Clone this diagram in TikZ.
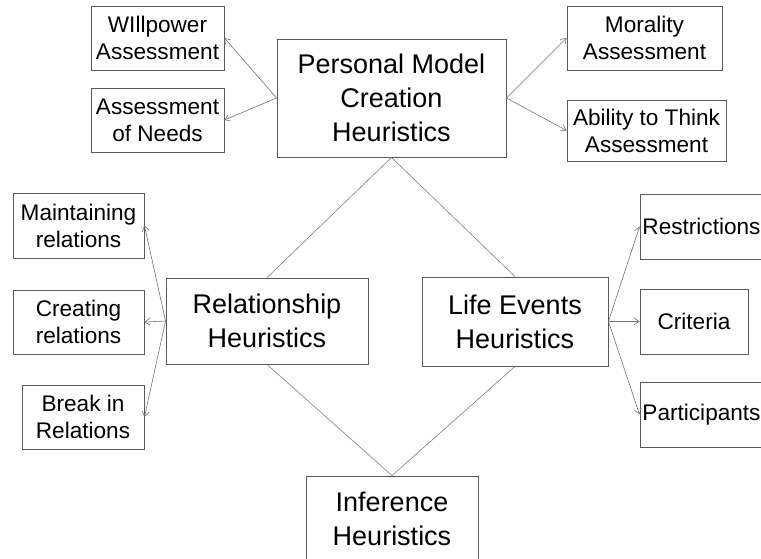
\documentclass[tikz,border=0pt]{standalone}
\usepackage{fontspec}
\setmainfont{Liberation Sans}
\usetikzlibrary{arrows.meta}
\tikzset{
    > = {Straight Barb[length=5pt, width=7pt]},
    box/.style = {draw = black!65, line width = 0.9pt, inner sep = 0pt,
        align = center, text = black},
    smallbox/.style = {box, font = \fontsize{22.6}{27}\selectfont},
    bigbox/.style = {box, font = \fontsize{27}{34}\selectfont},
    link/.style = {->, draw = black!55, line width = 0.6pt},
    tie/.style = {draw = black!50, line width = 0.6pt}
}

\begin{document}
\begin{tikzpicture}[x = 1pt, y = -1pt]
    \useasboundingbox (0, 0) rectangle (761, 558);
    \clip (0, 0) rectangle (761, 558);

    % main heuristics
    \node[bigbox, minimum width = 229pt, minimum height = 118pt] (model) at (391.5, 98) {Personal Model\\Creation\\Heuristics};
    \node[bigbox, minimum width = 202pt, minimum height = 86pt] (relation) at (267, 321) {Relationship\\Heuristics};
    \node[bigbox, minimum width = 186pt, minimum height = 89pt] (life) at (515, 321.5) {Life Events\\Heuristics};
    \node[bigbox, minimum width = 172pt, minimum height = 86pt] (infer) at (392, 519) {Inference\\Heuristics};

    % assessments
    \node[smallbox, minimum width = 133pt, minimum height = 64pt] (will) at (157.5, 38) {WIllpower\\Assessment};
    \node[smallbox, minimum width = 133pt, minimum height = 64pt] (needs) at (157.5, 120) {Assessment\\of Needs};
    \node[smallbox, minimum width = 155pt, minimum height = 64pt] (moral) at (644.5, 38) {Morality\\Assessment};
    \node[smallbox, minimum width = 159pt, minimum height = 61pt] (think) at (646.5, 130.5) {Ability to Think\\Assessment};

    % relations
    \node[smallbox, minimum width = 131pt, minimum height = 65pt] (keep) at (78.5, 225.5) {Maintaining\\relations};
    \node[smallbox, minimum width = 131pt, minimum height = 64pt] (make) at (78.5, 322) {Creating\\relations};
    \node[smallbox, minimum width = 122pt, minimum height = 64pt] (break) at (83, 417) {Break in\\Relations};

    % life events
    \node[smallbox, minimum width = 123pt, minimum height = 65pt] (limit) at (701.5, 226.5) {Restrictions};
    \node[smallbox, minimum width = 108pt, minimum height = 65pt] (crit) at (694, 321.5) {Criteria};
    \node[smallbox, minimum width = 123pt, minimum height = 65pt] (part) at (701.5, 414.5) {Participants};

    \draw[tie] (model.south) -- (relation.north);
    \draw[tie] (model.south) -- (life.north);
    \draw[tie] (relation.south) -- (infer.north);
    \draw[tie] (life.south) -- (infer.north);

    \draw[link] (model.west) -- (will.east);
    \draw[link] (model.west) -- (needs.east);
    \draw[link] (model.east) -- (moral.west);
    \draw[link] (model.east) -- (think.west);

    \draw[link] (relation.west) -- (keep.east);
    \draw[link] (relation.west) -- (make.east);
    \draw[link] (relation.west) -- (break.east);

    \draw[link] (life.east) -- (limit.west);
    \draw[link] (life.east) -- (crit.west);
    \draw[link] (life.east) -- (part.west);
\end{tikzpicture}
\end{document}
